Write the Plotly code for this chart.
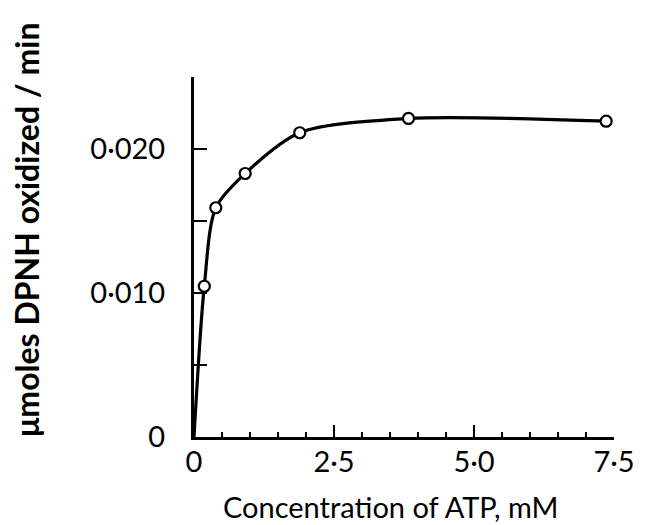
import plotly.graph_objects as go

# Data
atp_mM = [0.184, 0.389, 0.914, 1.888, 3.83, 7.36]
rate = [0.01047, 0.01592, 0.01830, 0.02113, 0.02212, 0.02193]

# curve drawn from the origin through the points
curve_x = [0.0] + atp_mM
curve_y = [0.0] + rate

x_tickvals = [0, 2.5, 5.0, 7.5]
x_ticktext = ["0", "2·5", "5·0", "7·5"]
y_tickvals = [0, 0.005, 0.010, 0.015, 0.020, 0.025]
y_ticktext = ["0", "", "0·010", "", "0·020", ""]

FONT = "Lato"

fig = go.Figure()
fig.add_trace(go.Scatter(
    x=curve_x, y=curve_y, mode="lines",
    line=dict(color="black", width=3.2, shape="spline", smoothing=0.8),
    hoverinfo="skip", showlegend=False,
))
fig.add_trace(go.Scatter(
    x=atp_mM, y=rate, mode="markers",
    marker=dict(symbol="circle", size=11, color="white",
                line=dict(color="black", width=2.2)),
    showlegend=False,
))

fig.update_layout(
    width=647, height=525,
    margin=dict(l=194, r=25, t=77, b=88),
    paper_bgcolor="white", plot_bgcolor="white",
    font=dict(family=FONT, color="black"),
    xaxis=dict(
        range=[0, 7.5], showgrid=False, zeroline=False,
        showline=True, linecolor="black", linewidth=3,
        ticks="inside", ticklen=12, tickwidth=2, tickcolor="black",
        tickvals=x_tickvals, ticktext=x_ticktext,
        tickfont=dict(family=FONT, size=29, color="black"),
        ticklabelstandoff=-3,
        minor=dict(dtick=0.5, ticks="inside", ticklen=5, tickwidth=2,
                   tickcolor="black", showgrid=False),
    ),
    yaxis=dict(
        range=[0, 0.025], showgrid=False, zeroline=False,
        showline=True, linecolor="black", linewidth=3,
        ticks="inside", ticklen=13, tickwidth=2, tickcolor="black",
        tickvals=y_tickvals, ticktext=y_ticktext,
        tickfont=dict(family=FONT, size=29, color="black"),
        ticklabelstandoff=20,
    ),
    annotations=[
        dict(text="Concentration of ATP, mM", xref="paper", yref="paper",
             x=0.47, y=-0.14, xanchor="center", yanchor="top",
             showarrow=False, font=dict(family=FONT, size=29, color="black")),
        dict(text="<b>μmoles DPNH oxidized / min</b>", xref="paper", yref="paper",
             x=-0.40, y=0.575, xanchor="center", yanchor="middle",
             textangle=-90, showarrow=False,
             font=dict(family=FONT, size=32, color="black")),
    ],
)

fig.write_html("out.html", config={"displayModeBar": False},
               post_script="document.body.style.margin='0';")
